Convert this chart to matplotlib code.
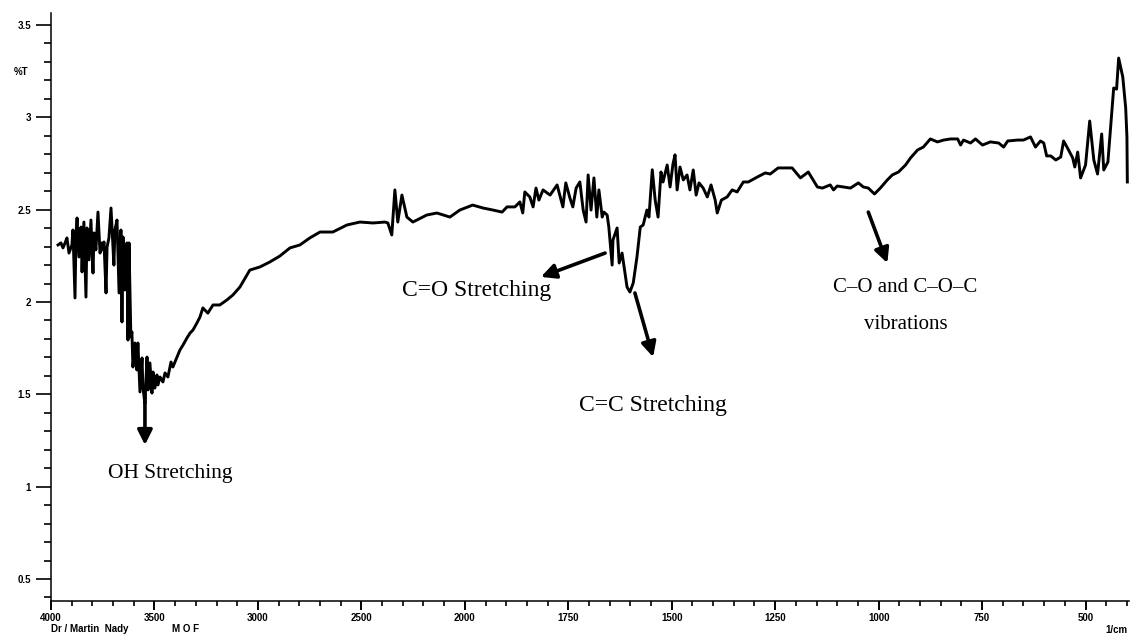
import matplotlib
matplotlib.use('Agg')
import matplotlib.pyplot as plt
from matplotlib.ticker import FixedLocator, FixedFormatter
import numpy as np

# FTIR spectrum: wavenumber (1/cm) and %T
wavenumber = [
    3966, 3952, 3942, 3932, 3923, 3913, 3899, 3894, 3884, 3879, 3874, 3865, 3855, 3850, 3841,
    3831, 3826, 3816, 3807, 3797, 3792, 3783, 3773, 3763, 3754, 3749, 3744, 3734, 3729, 3720,
    3710, 3700, 3696, 3691, 3681, 3671, 3662, 3657, 3652, 3643, 3633, 3628, 3623, 3614, 3609,
    3604, 3594, 3585, 3580, 3570, 3560, 3556, 3546, 3536, 3531, 3522, 3512, 3507, 3498, 3488,
    3483, 3473, 3459, 3449, 3435, 3420, 3411, 3391, 3377, 3362, 3343, 3328, 3314, 3295, 3280,
    3266, 3242, 3217, 3184, 3150, 3121, 3087, 3039, 2990, 2942, 2894, 2845, 2797, 2749, 2700,
    2638, 2570, 2507, 2444, 2386, 2372, 2353, 2338, 2324, 2304, 2280, 2251, 2184, 2135, 2072,
    2024, 1981, 1956, 1932, 1910, 1898, 1879, 1867, 1860, 1855, 1843, 1835, 1828, 1821, 1811,
    1794, 1777, 1763, 1756, 1746, 1739, 1731, 1722, 1714, 1707, 1702, 1695, 1688, 1681, 1676,
    1668, 1664, 1656, 1652, 1644, 1642, 1632, 1627, 1620, 1613, 1608, 1601, 1593, 1584, 1576,
    1569, 1560, 1555, 1547, 1540, 1533, 1526, 1521, 1511, 1504, 1497, 1492, 1487, 1480, 1472,
    1463, 1456, 1448, 1441, 1434, 1424, 1414, 1405, 1395, 1390, 1380, 1366, 1354, 1342, 1327,
    1315, 1293, 1274, 1262, 1243, 1209, 1189, 1170, 1148, 1136, 1117, 1109, 1100, 1085, 1068,
    1049, 1037, 1025, 1010, 996, 979, 967, 952, 935, 923, 906, 892, 875, 858, 843,
    826, 809, 802, 795, 778, 766, 749, 730, 710, 698, 688, 664, 650, 633, 621,
    609, 601, 594, 584, 572, 560, 553, 541, 531, 526, 519, 512, 500, 490, 480,
    471, 461, 456, 446, 432, 425, 420, 410, 403, 400, 399,
]
transmittance = [
    2.309, 2.320, 2.293, 2.320, 2.347, 2.265, 2.309, 2.390, 2.022, 2.374, 2.455, 2.244, 2.406, 2.163, 2.433,
    2.027, 2.401, 2.228, 2.444, 2.157, 2.374, 2.282, 2.487, 2.265, 2.320, 2.282, 2.325, 2.049, 2.298, 2.347,
    2.509, 2.293, 2.200, 2.390, 2.444, 2.049, 2.390, 1.892, 2.352, 2.065, 2.320, 1.794, 2.320, 1.811, 1.838,
    1.648, 1.778, 1.632, 1.778, 1.513, 1.697, 1.540, 1.450, 1.702, 1.524, 1.670, 1.507, 1.621, 1.534, 1.605,
    1.551, 1.594, 1.567, 1.616, 1.594, 1.675, 1.648, 1.702, 1.740, 1.767, 1.805, 1.832, 1.848, 1.886, 1.919,
    1.968, 1.940, 1.984, 1.984, 2.011, 2.038, 2.081, 2.173, 2.190, 2.217, 2.249, 2.293, 2.309, 2.347, 2.379,
    2.379, 2.417, 2.433, 2.428, 2.433, 2.428, 2.363, 2.607, 2.433, 2.579, 2.460, 2.433, 2.471, 2.482, 2.460,
    2.498, 2.525, 2.509, 2.498, 2.487, 2.515, 2.515, 2.542, 2.482, 2.596, 2.569, 2.515, 2.617, 2.552, 2.607,
    2.579, 2.634, 2.515, 2.645, 2.563, 2.515, 2.617, 2.650, 2.498, 2.433, 2.688, 2.498, 2.672, 2.460, 2.607,
    2.460, 2.487, 2.471, 2.406, 2.200, 2.336, 2.401, 2.211, 2.265, 2.157, 2.081, 2.054, 2.103, 2.244, 2.406,
    2.417, 2.498, 2.460, 2.716, 2.552, 2.460, 2.704, 2.650, 2.742, 2.623, 2.747, 2.797, 2.607, 2.731, 2.661,
    2.688, 2.607, 2.715, 2.579, 2.645, 2.617, 2.569, 2.634, 2.552, 2.482, 2.552, 2.569, 2.607, 2.596, 2.650,
    2.650, 2.677, 2.699, 2.693, 2.726, 2.726, 2.672, 2.704, 2.623, 2.617, 2.634, 2.607, 2.628, 2.623, 2.617,
    2.645, 2.623, 2.617, 2.585, 2.617, 2.661, 2.688, 2.704, 2.742, 2.780, 2.823, 2.839, 2.883, 2.867, 2.877,
    2.883, 2.883, 2.850, 2.877, 2.861, 2.883, 2.850, 2.867, 2.861, 2.839, 2.872, 2.877, 2.877, 2.894, 2.839,
    2.872, 2.861, 2.791, 2.791, 2.769, 2.785, 2.872, 2.823, 2.780, 2.731, 2.812, 2.672, 2.742, 2.980, 2.769,
    2.693, 2.910, 2.715, 2.758, 3.159, 3.153, 3.321, 3.218, 3.051, 2.894, 2.650,
]

x_major = [4000, 3500, 3000, 2500, 2000, 1750, 1500, 1250, 1000, 750, 500]
y_major = [0.5, 1, 1.5, 2, 2.5, 3, 3.5]
y_labels = ['0.5', '1', '1.5', '2', '2.5', '3', '3.5']

# annotations: text, text position, font size
labels = ['OH Stretching', 'C=O Stretching', 'C=C Stretching', 'C\u2013O and C\u2013O\u2013C', 'vibrations']
label_pos = [(3425, 1.069), (1971, 2.065), (1545, 1.442), (935, 2.081), (935, 1.876)]
label_size = [15.5, 17, 17, 15, 15]
# arrows: tail -> tip
arrow_tail = [(3546, 1.50), (1661, 2.265), (1589, 2.049), (1025, 2.487)]
arrow_tip = [(3546, 1.226), (1816, 2.136), (1545, 1.702), (979, 2.211)]


# Shimadzu style axis: scale doubles below 2000 1/cm
def fwd(x):
    x = np.asarray(x, dtype=float)
    return np.where(x > 2000, 2000 + (x - 2000) / 2, x)


def inv(u):
    u = np.asarray(u, dtype=float)
    return np.where(u > 2000, 2000 + (u - 2000) * 2, u)


fig = plt.figure(figsize=(11.3, 6.39), dpi=100)
ax = fig.add_axes([51 / 1130, 38 / 639, 1078 / 1130, 588 / 639])
ax.set_xscale('function', functions=(fwd, inv))

ax.plot(wavenumber, transmittance, color='black', lw=2.1, solid_joinstyle='round')

ax.set_xlim(4000, 395)
ax.set_ylim(0.381, 3.565)

for s in ['top', 'right']:
    ax.spines[s].set_visible(False)
for s in ['left', 'bottom']:
    ax.spines[s].set_linewidth(1.1)

tick_font = dict(family='Liberation Sans', size=7, weight='bold')

ax.xaxis.set_major_locator(FixedLocator(x_major))
ax.xaxis.set_major_formatter(FixedFormatter([str(v) for v in x_major]))
x_minor = [v for v in range(3900, 2000, -100) if v not in x_major]
x_minor += [v for v in range(1950, 399, -50) if v not in x_major]
ax.xaxis.set_minor_locator(FixedLocator(x_minor))

ax.yaxis.set_major_locator(FixedLocator(y_major))
ax.yaxis.set_major_formatter(FixedFormatter(y_labels))
y_minor = [round(v, 1) for v in np.arange(0.4, 3.55, 0.1) if round(v * 10) % 5 != 0]
ax.yaxis.set_minor_locator(FixedLocator(y_minor))

ax.tick_params(axis='x', which='major', length=6.5, width=1.4, pad=2)
ax.tick_params(axis='x', which='minor', length=3.5, width=1.2)
ax.tick_params(axis='y', which='major', length=10.5, width=1.2, pad=4)
ax.tick_params(axis='y', which='minor', length=5, width=1.2)
for lab in ax.get_xticklabels() + ax.get_yticklabels():
    lab.set_fontproperties(tick_font)

ax.text(-0.021, 3.246, '%T', transform=ax.get_yaxis_transform(), ha='right', va='center',
        fontdict=tick_font)
fig.text(51 / 1130, 1 - 629 / 639, 'Dr / Martin  Nady', ha='left', va='center', fontdict=tick_font)
fig.text(172 / 1130, 1 - 629 / 639, 'M O F', ha='left', va='center', fontdict=tick_font)
fig.text(1127 / 1130, 1 - 630 / 639, '1/cm', ha='right', va='center', fontdict=tick_font)

for tail, tip in zip(arrow_tail, arrow_tip):
    ax.annotate('', xy=tip, xytext=tail,
                arrowprops=dict(arrowstyle='-|>', color='black', lw=2.6,
                                mutation_scale=22, shrinkA=0, shrinkB=0))
for txt, pos, fs in zip(labels, label_pos, label_size):
    ax.text(pos[0], pos[1], txt, ha='center', va='center', family='Liberation Serif', fontsize=fs)

fig.savefig('out.png', dpi=100)
